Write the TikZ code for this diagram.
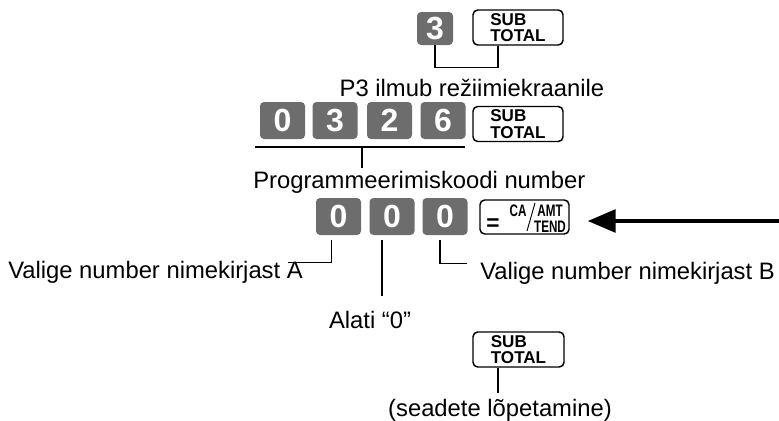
\documentclass[tikz,border=0pt]{standalone}
\usepackage{fontspec}
\setmainfont{Liberation Sans}
\usepackage{xcolor}
\usepackage{tikz}
\usetikzlibrary{arrows.meta,positioning}
\definecolor{keygray}{RGB}{109,109,109}

\begin{document}
\begin{tikzpicture}[x=0.75pt,y=-0.75pt,
numkey/.style={fill=keygray,rounded corners=3pt,minimum width=33.75pt,minimum height=27.75pt,inner sep=0pt,text=white,font=\fontsize{24}{24}\selectfont\bfseries},
fnkey/.style={draw,line width=1.1pt,rounded corners=3.5pt,fill=white,minimum width=67.5pt,minimum height=26.25pt,inner sep=0pt,align=left,font=\fontsize{12.8}{12.4}\selectfont\bfseries},
lbl/.style={font=\fontsize{17.85}{20}\selectfont,inner sep=0pt},
tiny/.style={inner sep=0pt,font=\fontsize{12.5}{12.5}\selectfont\bfseries},
lead/.style={line width=0.8pt}]
\useasboundingbox (0,0) rectangle (779,421);
%% top row
\node[numkey,minimum width=27pt,minimum height=24.75pt](t3)at(435,28.5){3};
\node[fnkey](tst)at(518,27.5){SUB\\TOTAL};
\draw[lead](t3.south)--++(0,22)-|([xshift=-15pt]tst.south);
\node[lbl](p3)at(472,88){P3 ilmub režiimiekraanile};
%% code row
\foreach \d/\x [count=\i] in {0/282.5,3/335,2/389.5,6/443}
  \node[numkey](c\i)at(\x,120.5){\d};
\node[fnkey](cst)at(518,124){SUB\\TOTAL};
\coordinate(brl)at(255,147);
\coordinate(brr)at(465,147);
\coordinate(brm)at(362,147);
\draw[lead](brl)--(brr)
(brm)--++(0,21);
\node[lbl,anchor=west](pc)at(253,182){Programmeerimiskoodi number};
%% value row
\foreach \x [count=\i] in {338.5,392,445}
  \node[numkey](d\i)at(\x,216.5){0};
\node[fnkey,minimum width=66.75pt,minimum height=25.5pt](ca)at(524.5,217){};
\node[inner sep=0pt,font=\fontsize{17}{17}\selectfont\bfseries]at(493,225){=};
\node[tiny]at(518,211){\scalebox{0.7}[1]{CA}};
\node[tiny]at(550,211){\scalebox{0.7}[1]{AMT}};
\node[tiny]at(550,227){\scalebox{0.7}[1]{TEND}};
\draw[line width=0.7pt](527,231)--(535,203);
\coordinate(arrs)at(779,221);
\draw[line width=3pt,-{Triangle[length=21pt,width=17pt]}](arrs)--([xshift=13.5pt]ca.east|-arrs);
%% leaders
\draw[lead]([xshift=-5.6pt,yshift=-3.5pt]d1.south)--++(0,23)--++(-43,0);
\node[lbl,anchor=west](la)at(8,272){Valige number nimekirjast A};
\draw[lead]([xshift=-7.5pt,yshift=-3.5pt]d2.south)--++(0,56);
\node[lbl](lz)at(370,320){Alati “0”};
\draw[lead]([xshift=-3.75pt,yshift=-3.5pt]d3.south)--++(0,24)--++(27,0);
\node[lbl,anchor=west](lb)at(480,273){Valige number nimekirjast B};
%% end
\node[fnkey,minimum width=68.25pt](bst)at(518.5,349.5){SUB\\TOTAL};
\draw[lead]([xshift=-15.4pt]bst.south)--++(0,25);
\node[lbl](le)at(500,410){(seadete lõpetamine)};
\end{tikzpicture}
\end{document}
